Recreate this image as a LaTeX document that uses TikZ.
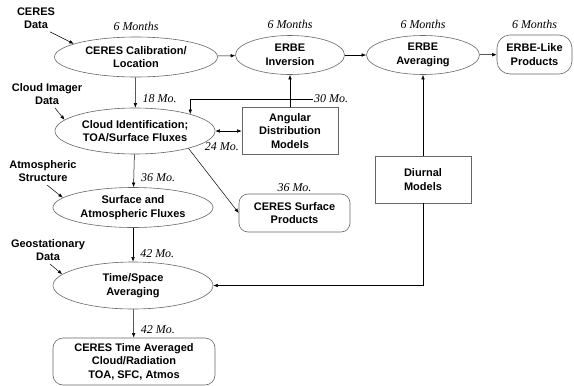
\documentclass[tikz,border=0pt]{standalone}
\usepackage{fontspec}
\setmainfont{Liberation Sans}
\newfontfamily\serifit{Liberation Serif}
\usepackage{tikz}
\usetikzlibrary{arrows.meta,positioning,shapes.geometric,calc}

\begin{document}
\begin{tikzpicture}[x=1pt,y=-1pt,
  ell/.style={ellipse,draw=black!60,line width=0.6pt,inner sep=0pt,align=center,font=\fontsize{11}{13.5}\selectfont\bfseries},
  box/.style={rectangle,draw=black!60,line width=0.6pt,inner sep=0pt,align=center,font=\fontsize{11}{13.5}\selectfont\bfseries},
  rbox/.style={box,rounded corners=9pt},
  txt/.style={align=center,inner sep=3pt,font=\fontsize{11}{13.5}\selectfont\bfseries},
  lab/.style={inner sep=1pt,font=\fontsize{12}{13}\selectfont\serifit\itshape},
  arr/.style={-{Latex[length=4.5pt,width=3.5pt]},line width=0.5pt},
  arr2/.style={{Latex[length=4.5pt,width=3.5pt]}-{Latex[length=4.5pt,width=3.5pt]},line width=0.5pt}]
\useasboundingbox (0,0) rectangle (574,386);

% processing steps
\node (cal) at (136,57)[ell,minimum width=163pt,minimum height=40pt] {CERES Calibration/\\Location};
\node (inv) at (290,55)[ell,minimum width=109pt,minimum height=39pt] {ERBE\\Inversion};
\node (avg) at (423,55)[ell,minimum width=113pt,minimum height=39pt] {ERBE\\Averaging};
\node (cld) at (135,131)[ell,minimum width=160pt,minimum height=46pt] {Cloud Identification;\\TOA/Surface Fluxes};
\node (sfc) at (133,207.5)[ell,minimum width=160pt,minimum height=40pt] {Surface and\\Atmospheric Fluxes};
\node (tsa) at (133,285.5)[ell,minimum width=160pt,minimum height=47pt] {Time/Space\\Averaging};

% models and products
\node (erbeprod) at (534.5,54.5)[rbox,rounded corners=13pt,minimum width=75pt,minimum height=39pt] {ERBE-Like\\Products};
\node (adm) at (290,131)[box,minimum width=96pt,minimum height=47pt] {Angular\\Distribution\\Models};
\node (sfcprod) at (294.5,213)[rbox,minimum width=111pt,minimum height=38pt] {CERES Surface\\Products};
\node (diu) at (423,179.5)[box,minimum width=96pt,minimum height=47pt] {Diurnal\\Models};
\node (tavg) at (134,361.5)[rbox,rounded corners=10pt,minimum width=162pt,minimum height=47pt] {CERES Time Averaged\\Cloud/Radiation\\TOA, SFC, Atmos};

% inputs
\node (cdat) at (36,18)[txt] {CERES\\Data};
\node (cim) at (47,94)[txt] {Cloud Imager\\Data};
\node (atm) at (43,171)[txt] {Atmospheric\\Structure};
\node (geo) at (48,250)[txt] {Geostationary\\Data};

% time labels
\node[lab,above=5pt of cal] {6 Months};
\node[lab,above=5pt of inv] {6 Months};
\node[lab,above=5pt of avg] {6 Months};
\node[lab,above=5pt of erbeprod] {6 Months};
\node[lab,above=1pt of sfcprod] {36 Mo.};

\coordinate (adm30) at (313,99);

\draw[arr] ([xshift=14pt]cdat.south) -- (cal.168);
\draw[arr] ([xshift=8pt]cim.south) -- (cld.171);
\draw[arr] ([xshift=4pt]atm.south) -- (sfc.172);
\draw[arr] ([xshift=2pt]geo.south) -- (tsa.171);

\draw[arr] (cal) -- (inv);
\draw[arr] (inv) -- (avg);
\draw[arr] (avg) -- (erbeprod);

\draw[arr] (cal) -- node[lab,pos=0.7,right=6pt]{18 Mo.} (cld);
\draw[arr] (cld) -- node[lab,pos=0.7,right=6pt]{36 Mo.} (sfc);
\draw[arr] (sfc) -- node[lab,pos=0.75,right=6pt]{42 Mo.} (tsa);
\draw[arr] (tsa) -- node[lab,pos=0.7,right=6pt]{42 Mo.} (tavg);

\draw[arr] (adm) -- (inv);
\draw (adm30) node[lab,right]{30 Mo.};
\draw[arr] (adm30) -| (cld.17);
\draw[arr2] (cld) -- node[lab,pos=0.25,below=10pt]{24 Mo.} (adm);
\draw[arr] (cld.-18) -- (sfcprod.west);

\draw[arr] (diu) -- (avg);
\draw[arr] (diu) |- (tsa);

\end{tikzpicture}
\end{document}
